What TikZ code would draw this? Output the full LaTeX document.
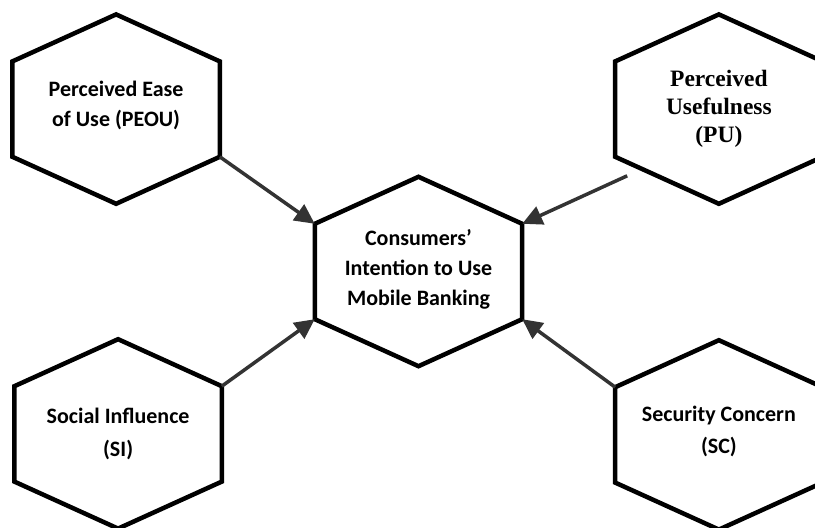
\documentclass[tikz,border=0pt]{standalone}
\usepackage{fontspec}
\setsansfont{Carlito}
\newfontfamily\pufont{Liberation Serif}
\usepackage{tikz}
\usetikzlibrary{arrows.meta,positioning}

\begin{document}
\begin{tikzpicture}[
  hexbox/.style={minimum width=207pt, minimum height=95pt, inner sep=0pt,
    align=center, font=\sffamily\bfseries\fontsize{22}{30}\selectfont},
  hexline/.style={line width=4.5pt, line join=miter, fill=white},
  arr/.style={-{Triangle[length=20pt,width=19pt]}, line width=3.5pt, draw=black!80, fill=black!80}
]
  \useasboundingbox (-418.5pt,-256.5pt) rectangle (396.5pt,271.5pt);
  \clip (-418.5pt,-256.5pt) rectangle (396.5pt,271.5pt);

  \node[hexbox] (intent) at (0,0) {};
  \node[hexbox, above left=67pt and 95pt of intent] (peou) {};
  \node[hexbox, above right=67pt and 93pt of intent] (pu) {};
  \node[hexbox, below left=67pt and 93pt of intent] (si) {};
  \node[hexbox, below right=68pt and 93pt of intent] (sc) {};

  % hexagon outlines on the box corners
  \foreach \n in {intent,peou,pu,si,sc}
    \draw[hexline] (\n.north west) -- ([yshift=47pt]\n.north) -- (\n.north east)
      -- (\n.south east) -- ([yshift=-47pt]\n.south) -- (\n.south west) -- cycle;

  \node[hexbox, yshift=2pt] at (intent) {Consumers'\\Intention to Use\\Mobile Banking};
  \node[hexbox, yshift=4pt] at (peou) {Perceived Ease\\of Use (PEOU)};
  \node[hexbox, font=\pufont\bfseries\fontsize{23.5}{28}\selectfont] at (pu) {Perceived\\Usefulness\\(PU)};
  \node[hexbox, font=\sffamily\bfseries\fontsize{22}{33}\selectfont] at (si) {Social Influence\\(SI)};
  \node[hexbox, font=\sffamily\bfseries\fontsize{22}{32}\selectfont, yshift=3pt] at (sc) {Security Concern\\(SC)};

  \coordinate (pustart) at ([shift={(12pt,-19pt)}]pu.south west);

  \draw[arr] (peou.south east) -- (intent.north west);
  \draw[arr] (pustart) -- (intent.north east);
  \draw[arr] (si.north east) -- (intent.south west);
  \draw[arr] (sc.north west) -- (intent.south east);
\end{tikzpicture}
\end{document}
